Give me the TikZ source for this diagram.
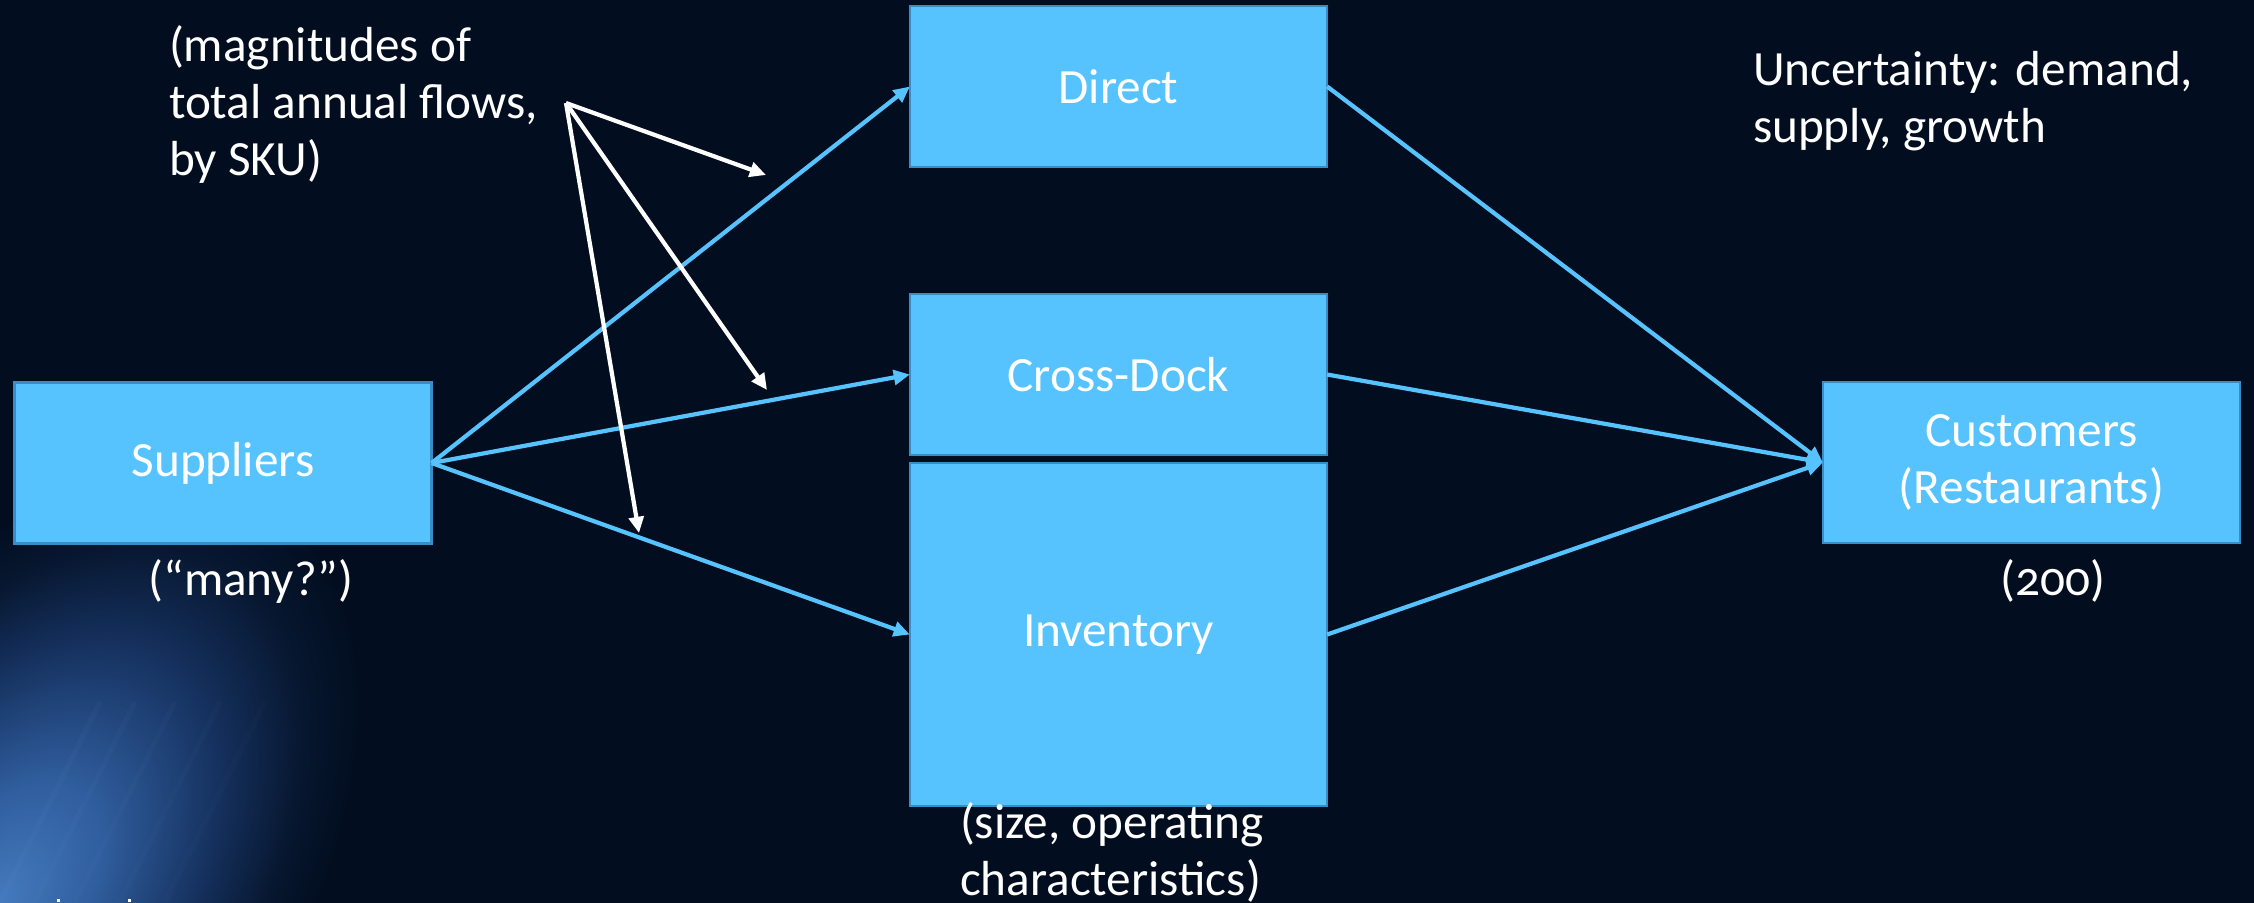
\documentclass[tikz,border=0pt]{standalone}
\usepackage{fontspec}
\setmainfont{Carlito}[Numbers=OldStyle]
\usetikzlibrary{arrows.meta}

\definecolor{bg}{RGB}{2,14,32}
\definecolor{boxfill}{RGB}{86,195,254}
\definecolor{boxline}{RGB}{58,140,196}
\definecolor{flowblue}{RGB}{86,195,254}
\definecolor{glowA}{RGB}{68,122,190}
\definecolor{glowB}{RGB}{48,94,158}
\definecolor{glowC}{RGB}{22,50,96}
\definecolor{glowD}{RGB}{7,23,48}

% radial light used for the lower left corner
\pgfdeclareradialshading{cornerglow}{\pgfpoint{0bp}{0bp}}{%
  color(0bp)=(glowA); color(7bp)=(glowB); color(15bp)=(glowC);
  color(21bp)=(glowD); color(25bp)=(bg); color(50bp)=(bg)}

\begin{document}
\begin{tikzpicture}[x=0.01cm,y=-0.01cm,
  stage/.style={draw=boxline, line width=0.7pt, fill=boxfill, text=white,
    font=\fontsize{14}{16.2}\selectfont, align=center, inner sep=0pt,
    outer sep=0pt, minimum width=4.17cm, minimum height=1.61cm},
  flowline/.style={draw=flowblue, line width=1.2pt,
    -{Triangle[length=4.6pt,width=4.2pt]}},
  pointer/.style={draw=white, line width=1.2pt,
    -{Triangle[length=4.6pt,width=4.2pt]}},
  note/.style={text=white, font=\fontsize{14}{16.2}\selectfont,
    inner sep=0pt, outer sep=0pt}
]
% canvas and background
\useasboundingbox (0,0) rectangle (2254,902);
\fill[bg] (-10,-10) rectangle (2264,912);

% soft light in the lower left corner
\begin{scope}[transform canvas={shift={(0,902)}, rotate=55}]
  \shade[shading=cornerglow] (0,0) ellipse [x radius=480, y radius=280];
\end{scope}
\foreach \sx/\o in {0/0.05, 35/0.045, 75/0.04, 120/0.03, 165/0.025} {
  \draw[glowA!70!white, opacity=\o, line width=1.5pt]
    (\sx,902) -- ++(100,-200);
}
\fill[white] (57,899) rectangle (60,902);
\fill[white] (128,899) rectangle (131,902);

% stages of the network
\node[stage] (sup) at (223,463) {Suppliers};
\node[stage] (dir) at (1118.5,86.5) {Direct};
\node[stage] (xdock) at (1118.5,374.5) {Cross-Dock};
\node[stage, minimum height=3.43cm] (inv) at (1118.5,634.5) {Inventory};
\node[stage] (cust) at (2031.5,462.5) {Customers\\(Restaurants)};

% flows
\draw[flowline] (sup.east) -- (dir.west);
\draw[flowline] (sup.east) -- (xdock.west);
\draw[flowline] (sup.east) -- (inv.west);
\draw[flowline] (dir.east) -- (cust.west);
\draw[flowline] (xdock.east) -- (cust.west);
\draw[flowline] (inv.east) -- (cust.west);

% annotations (base anchor sits on the last line)
\node[note, anchor=base west, align=left] (mag) at (169,175)
  {(magnitudes of\\total annual flows,\\by SKU)};
\node[note, anchor=base west, align=left] (unc) at (1753,142)
  {Uncertainty: demand,\\supply, growth};
\node[note, anchor=base] (many) at (251,595) {(“many?”)};
\node[note, anchor=base] (count) at (2053,595) {(200)};
\node[note, anchor=base west, align=left] (size) at (960,895)
  {(size, operating\\characteristics)};

% pointers from the flow-magnitude note
\coordinate (hub) at (566,103);
\coordinate (tipA) at (766,175);
\coordinate (tipB) at (767,390);
\coordinate (tipC) at (639,533);
\draw[pointer] (hub) -- (tipA);
\draw[pointer] (hub) -- (tipB);
\draw[pointer] (hub) -- (tipC);
\end{tikzpicture}
\end{document}
